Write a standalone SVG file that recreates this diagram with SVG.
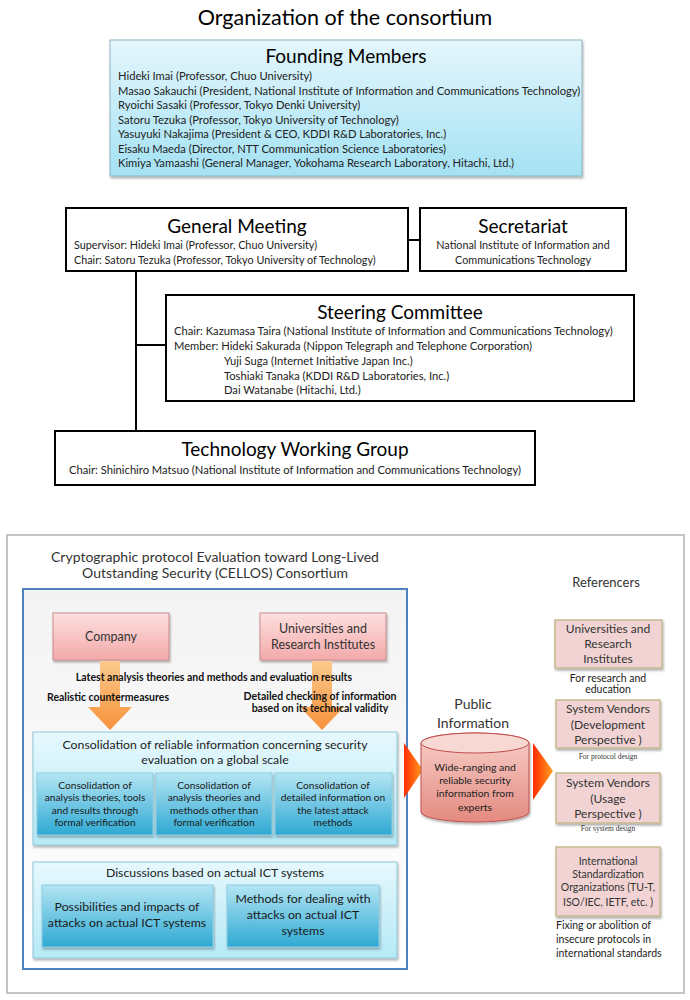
<svg xmlns="http://www.w3.org/2000/svg" width="690" height="1000" viewBox="0 0 690 1000">
<defs>
<linearGradient id="gFound" x1="0" y1="0" x2="0" y2="1"><stop offset="0" stop-color="#e4f6fc"/><stop offset="1" stop-color="#a4e2f4"/></linearGradient>
<linearGradient id="gPink" x1="0" y1="0" x2="0" y2="1"><stop offset="0" stop-color="#fde0e0"/><stop offset="1" stop-color="#f3a9a9"/></linearGradient>
<linearGradient id="gOrange" x1="0" y1="0" x2="0" y2="1"><stop offset="0" stop-color="#fbc98c"/><stop offset="1" stop-color="#f7923a"/></linearGradient>
<linearGradient id="gCons" x1="0" y1="0" x2="0" y2="1"><stop offset="0" stop-color="#e6f8fd"/><stop offset="1" stop-color="#b6e9f7"/></linearGradient>
<linearGradient id="gSub" x1="0" y1="0" x2="0" y2="1"><stop offset="0" stop-color="#b4e5f3"/><stop offset="1" stop-color="#2fa9d3"/></linearGradient>
<linearGradient id="gBlue" x1="0" y1="0" x2="0" y2="1"><stop offset="0" stop-color="#f3f3f3"/><stop offset="1" stop-color="#ffffff"/></linearGradient>
<linearGradient id="gRed" x1="0" y1="0" x2="1" y2="0"><stop offset="0" stop-color="#ff2a00"/><stop offset="1" stop-color="#ffa020"/></linearGradient>
<linearGradient id="gCyl" x1="0" y1="0" x2="0" y2="1"><stop offset="0" stop-color="#f8d0ca"/><stop offset="1" stop-color="#e48a80"/></linearGradient>
<filter id="sh" x="-10%" y="-10%" width="120%" height="130%"><feDropShadow dx="1" dy="2" stdDeviation="1.2" flood-color="#000" flood-opacity="0.3"/></filter>
</defs>
<style>
text{font-family:Lato,"Liberation Sans",sans-serif;fill:#222}
.ttl{font-size:21.5px;fill:#000;text-anchor:middle}
.h{font-size:19px;fill:#000;text-anchor:middle}
.s{font-size:11.2px;fill:#222}
.c{text-anchor:middle}
.org{fill:#fff;stroke:#000;stroke-width:2}
.ln{stroke:#000;stroke-width:2;fill:none}
.b{font-weight:bold;font-size:10.5px;fill:#111}
.pink{fill:url(#gPink);stroke:#c98c8c;stroke-width:1}
.pt{font-size:12.5px;fill:#333;text-anchor:middle}
.cons{fill:url(#gCons);stroke:#8fc6d6;stroke-width:1}
.sub{fill:url(#gSub);stroke:#8ccde3;stroke-width:1}
.ref{fill:#f2d3d3;stroke:#c6b98e;stroke-width:1.5}
.rt{font-size:12px;fill:#333;text-anchor:middle}
.st{font-size:10.2px;text-anchor:middle;fill:#1a1a1a}
.dt{font-size:12.3px;text-anchor:middle;fill:#1a1a1a}
.serif{font-family:"Liberation Serif",serif;font-size:7.5px;text-anchor:middle;fill:#333}
</style>
<rect width="690" height="1000" fill="#fff"/>
<text class="ttl" x="345" y="25">Organization of the consortium</text>

<g id="founding">
<rect x="110" y="40" width="472" height="136" fill="url(#gFound)" stroke="#8fb4c2" stroke-width="1" filter="url(#sh)"/>
<text class="h" x="346" y="63">Founding Members</text>
<text class="s" x="118" y="80">Hideki Imai (Professor, Chuo University)</text>
<text class="s" x="118" y="94.5">Masao Sakauchi (President, National Institute of Information and Communications Technology)</text>
<text class="s" x="118" y="109">Ryoichi Sasaki (Professor, Tokyo Denki University)</text>
<text class="s" x="118" y="123.5">Satoru Tezuka (Professor, Tokyo University of Technology)</text>
<text class="s" x="118" y="138">Yasuyuki Nakajima (President &amp; CEO, KDDI R&amp;D Laboratories, Inc.)</text>
<text class="s" x="118" y="152.5">Eisaku Maeda (Director, NTT Communication  Science Laboratories)</text>
<text class="s" x="118" y="167">Kimiya Yamaashi (General Manager, Yokohama  Research Laboratory, Hitachi, Ltd.)</text>
</g>

<g id="connectors-top">
<line class="ln" x1="408" y1="240" x2="420" y2="240"/>
<polyline class="ln" points="136,271 136,431"/>
<line class="ln" x1="136" y1="345" x2="166" y2="345"/>
</g>

<g id="general-meeting">
<rect class="org" x="66" y="208" width="342" height="63"/>
<text class="h" x="237" y="233">General Meeting</text>
<text class="s" x="74" y="249" style="font-size:10.8px">Supervisor:  Hideki Imai (Professor, Chuo University)</text>
<text class="s" x="74" y="264" style="font-size:10.8px">Chair: Satoru  Tezuka (Professor, Tokyo University of Technology)</text>
</g>

<g id="secretariat">
<rect class="org" x="420" y="208" width="206" height="63"/>
<text class="h" x="523" y="233">Secretariat</text>
<text class="s c" x="523" y="249" style="font-size:10.8px">National Institute of Information and</text>
<text class="s c" x="523" y="264" style="font-size:10.8px">Communications  Technology</text>
</g>

<g id="steering">
<rect class="org" x="166" y="295" width="468" height="106"/>
<text class="h" x="400" y="319">Steering Committee</text>
<text class="s" x="174" y="335">Chair: Kazumasa Taira (National Institute of Information  and Communications  Technology)</text>
<text class="s" x="174" y="350">Member:  Hideki Sakurada (Nippon Telegraph and Telephone Corporation)</text>
<text class="s" x="224" y="365">Yuji Suga (Internet  Initiative Japan Inc.)</text>
<text class="s" x="224" y="380">Toshiaki Tanaka (KDDI R&amp;D Laboratories, Inc.)</text>
<text class="s" x="224" y="394">Dai Watanabe (Hitachi, Ltd.)</text>
</g>

<g id="twg">
<rect class="org" x="55" y="431" width="480" height="54"/>
<text class="h" x="295" y="456">Technology Working Group</text>
<text class="s c" x="295" y="474">Chair: Shinichiro Matsuo (National Institute of Information  and Communications  Technology)</text>
</g>

<g id="cellos-frame">
<rect x="7" y="535" width="677" height="458" fill="#fff" stroke="#c4c4c4" stroke-width="2"/>
<text class="c" x="215" y="562" style="font-size:14px;fill:#333">Cryptographic protocol Evaluation toward Long-Lived</text>
<text class="c" x="215" y="578" style="font-size:14px;fill:#333">Outstanding Security (CELLOS) Consortium</text>
<rect x="23" y="589" width="384" height="380" fill="url(#gBlue)" stroke="#4f81bd" stroke-width="2"/>
</g>

<g id="company">
<rect class="pink" x="53" y="613" width="116" height="47" filter="url(#sh)"/>
<text class="pt" x="111" y="641">Company</text>
</g>

<g id="universities">
<rect class="pink" x="260" y="613" width="126" height="47" filter="url(#sh)"/>
<text class="pt" x="323" y="633">Universities and</text>
<text class="pt" x="323" y="649">Research Institutes</text>
</g>

<g id="connectors">
<polygon points="100,661 120,661 120,707 132,707 110,730 88,707 100,707" fill="url(#gOrange)"/>
<polygon points="312,661 332,661 332,707 344,707 322,730 300,707 312,707" fill="url(#gOrange)"/>
<polygon points="404,743 423,770 404,798" fill="url(#gRed)"/>
<polygon points="533,743 553,771 533,800" fill="url(#gRed)"/>
</g>

<g id="flow-labels">
<text class="b c" x="214" y="681">Latest analysis theories and methods and evaluation results</text>
<text class="b" x="47" y="701">Realistic countermeasures</text>
<text class="b c" x="320" y="700">Detailed checking of information</text>
<text class="b c" x="320" y="712">based on its technical validity</text>
</g>

<g id="consolidation">
<rect class="cons" x="33" y="732" width="364" height="113" filter="url(#sh)"/>
<text class="c" x="215" y="749" style="font-size:12.3px">Consolidation of reliable information concerning security</text>
<text class="c" x="215" y="764" style="font-size:12.3px">evaluation on a global scale</text>
<rect class="sub" x="37" y="773" width="116" height="62" filter="url(#sh)"/>
<text class="st" x="95" y="789">Consolidation of</text>
<text class="st" x="95" y="801">analysis theories, tools</text>
<text class="st" x="95" y="814">and results through</text>
<text class="st" x="95" y="826">formal verification</text>
<rect class="sub" x="156" y="773" width="116" height="62" filter="url(#sh)"/>
<text class="st" x="214" y="789">Consolidation of</text>
<text class="st" x="214" y="801">analysis theories and</text>
<text class="st" x="214" y="814">methods other than</text>
<text class="st" x="214" y="826">formal verification</text>
<rect class="sub" x="275" y="773" width="117" height="62" filter="url(#sh)"/>
<text class="st" x="333" y="789">Consolidation of</text>
<text class="st" x="333" y="801">detailed information on</text>
<text class="st" x="333" y="814">the latest attack</text>
<text class="st" x="333" y="826">methods</text>
</g>

<g id="discussions">
<rect class="cons" x="33" y="862" width="364" height="96" filter="url(#sh)"/>
<text class="c" x="215" y="877" style="font-size:12.3px">Discussions based on actual ICT systems</text>
<rect class="sub" x="42" y="885" width="171" height="62" filter="url(#sh)"/>
<text class="dt" x="127" y="911">Possibilities and impacts of</text>
<text class="dt" x="127" y="927">attacks on actual  ICT systems</text>
<rect class="sub" x="227" y="885" width="152" height="62" filter="url(#sh)"/>
<text class="dt" x="303" y="903">Methods for dealing with</text>
<text class="dt" x="303" y="919">attacks on actual  ICT</text>
<text class="dt" x="303" y="935">systems</text>
</g>

<g id="public-information">
<text class="c" x="473" y="709" style="font-size:14px;fill:#333">Public</text>
<text class="c" x="473" y="728" style="font-size:14px;fill:#333">Information</text>
<path d="M421,743 L421,812 A54,10 0 0 0 529,812 L529,743 A54,10 0 0 0 421,743 Z" fill="url(#gCyl)" stroke="#c0504d" stroke-width="1" filter="url(#sh)"/>
<ellipse cx="475" cy="743" rx="54" ry="10" fill="#f8d8d3" stroke="#c0504d" stroke-width="1"/>
<text class="c" x="475" y="771" style="font-size:10.4px">Wide-ranging and</text>
<text class="c" x="475" y="784" style="font-size:10.4px">reliable security</text>
<text class="c" x="475" y="797" style="font-size:10.4px">information  from</text>
<text class="c" x="475" y="811" style="font-size:10.4px">experts</text>
</g>

<g id="referencers">
<text class="c" x="606" y="587" style="font-size:13px;fill:#333">Referencers</text>
</g>

<g id="ref-universities">
<rect class="ref" x="555" y="620" width="107" height="48" filter="url(#sh)"/>
<text class="rt" x="608" y="633">Universities and</text>
<text class="rt" x="608" y="648">Research</text>
<text class="rt" x="608" y="663">Institutes</text>
<text class="c" x="608" y="682" style="font-size:10.5px">For research and</text>
<text class="c" x="608" y="693" style="font-size:10.5px">education</text>
</g>

<g id="ref-dev">
<rect class="ref" x="556" y="700" width="104" height="48" filter="url(#sh)"/>
<text class="rt" x="608" y="713">System Vendors</text>
<text class="rt" x="608" y="729">(Development</text>
<text class="rt" x="608" y="744">Perspective )</text>
<text class="serif" x="608" y="759">For protocol design</text>
</g>

<g id="ref-usage">
<rect class="ref" x="556" y="773" width="104" height="50" filter="url(#sh)"/>
<text class="rt" x="608" y="787">System Vendors</text>
<text class="rt" x="608" y="803">(Usage</text>
<text class="rt" x="608" y="818">Perspective )</text>
<text class="serif" x="608" y="831">For system design</text>
</g>

<g id="ref-standards">
<rect class="ref" x="556" y="847" width="104" height="69" filter="url(#sh)"/>
<text class="c" x="608" y="865" style="font-size:10.5px;fill:#333">International</text>
<text class="c" x="608" y="878" style="font-size:10.5px;fill:#333">Standardization</text>
<text class="c" x="608" y="891" style="font-size:10.5px;fill:#333">Organizations (TU-T,</text>
<text class="c" x="608" y="906" style="font-size:10.5px;fill:#333">ISO/IEC, IETF, etc. )</text>
<text x="556" y="929" style="font-size:10.5px">Fixing or abolition of</text>
<text x="556" y="943" style="font-size:10.5px">insecure protocols in</text>
<text x="556" y="957" style="font-size:10.5px">international standards</text>
</g>
</svg>
